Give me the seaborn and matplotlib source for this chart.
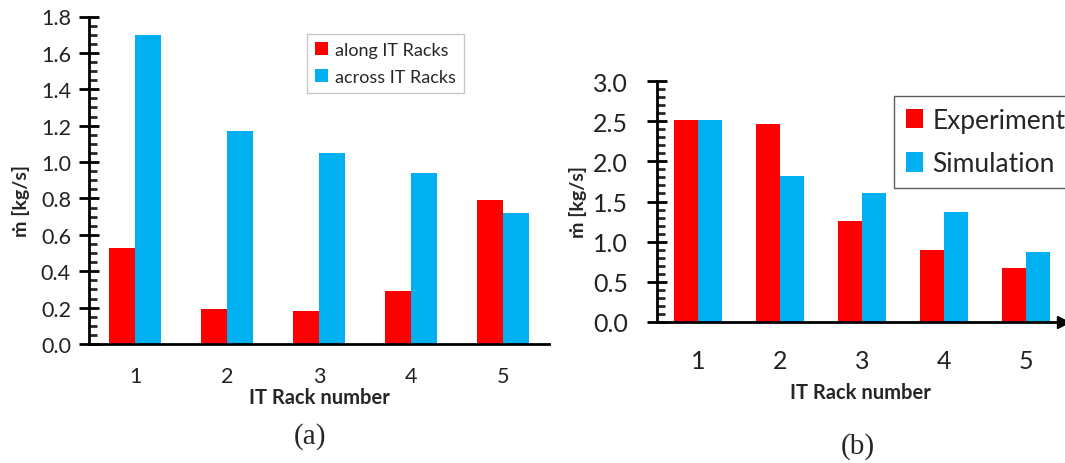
import numpy as np
import pandas as pd
import matplotlib
matplotlib.use("Agg")
import matplotlib.pyplot as plt
from matplotlib.ticker import MultipleLocator, FormatStrFormatter
import seaborn as sns

# Panel (a): mass flow along / across the IT racks
racks = ["1", "2", "3", "4", "5"]
along_racks = [0.53, 0.19, 0.18, 0.29, 0.79]
across_racks = [1.70, 1.17, 1.05, 0.94, 0.72]
series_a = ["along IT Racks", "across IT Racks"]

# Panel (b): experiment vs. simulation
experiment = [2.52, 2.47, 1.26, 0.90, 0.67]
simulation = [2.52, 1.82, 1.60, 1.37, 0.87]
series_b = ["Experiment", "Simulation"]

ylabel = "ṁ [kg/s]"
xlabel = "IT Rack number"

RED = "#FF0000"
BLUE = "#00B0F0"

sns.set_theme(style="white")
FONT = ["Lato", "DejaVu Sans"]
plt.rcParams["font.family"] = FONT

df_a = pd.DataFrame({
    "rack": racks * 2,
    "value": along_racks + across_racks,
    "series": [series_a[0]] * 5 + [series_a[1]] * 5,
})
df_b = pd.DataFrame({
    "rack": racks * 2,
    "value": experiment + simulation,
    "series": [series_b[0]] * 5 + [series_b[1]] * 5,
})

W, H = 1065, 464
fig = plt.figure(figsize=(W / 100, H / 100), dpi=100)


def px_axes(x0, x1, y_top, y_bot):
    return fig.add_axes([x0 / W, 1 - y_bot / H, (x1 - x0) / W, (y_bot - y_top) / H])


def style_axes(ax, major, minor, tick_fs, xpad, ypad):
    for side in ("top", "right"):
        ax.spines[side].set_visible(False)
    for side in ("left", "bottom"):
        ax.spines[side].set_color("black")
        ax.spines[side].set_linewidth(2.0)
    ax.yaxis.set_major_locator(MultipleLocator(major))
    ax.yaxis.set_minor_locator(MultipleLocator(minor))
    ax.yaxis.set_major_formatter(FormatStrFormatter("%.1f"))
    ax.tick_params(axis="y", which="major", direction="inout", length=14, width=2,
                   left=True, labelsize=tick_fs, colors="black", pad=ypad)
    ax.tick_params(axis="y", which="minor", direction="in", length=6, width=2,
                   left=True)
    ax.tick_params(axis="x", which="both", bottom=False, labelsize=tick_fs,
                   pad=xpad, colors="black")
    for lbl in ax.get_xticklabels() + ax.get_yticklabels():
        lbl.set_color("#222222")


# ---- panel (a)
ax1 = px_axes(89, 549, 17.5, 345)
sns.barplot(data=df_a, x="rack", y="value", hue="series",
            palette=[RED, BLUE], width=0.57, saturation=1, ax=ax1,
            edgecolor="none")
ax1.set_xlim(-0.5, 4.5)
ax1.set_ylim(0, 1.8)
style_axes(ax1, 0.2, 0.05, 15.5, 10, 6)
ax1.set_ylabel(ylabel, fontsize=14, fontweight="bold", family=FONT)
ax1.yaxis.set_label_coords(-0.128, 0.44)
ax1.set_xlabel(xlabel, fontsize=14.5, fontweight="bold", family=FONT)
ax1.xaxis.set_label_coords(0.5, -0.132)
leg1 = ax1.legend(loc="upper left", bbox_to_anchor=(218 / 460, 1 - 17.5 / 327.5),
                  fontsize=13, frameon=True, fancybox=False, handlelength=0.7,
                  handleheight=0.7, handletextpad=0.4, labelspacing=0.6,
                  borderpad=0.45, borderaxespad=0)
leg1.get_frame().set_edgecolor("#BBBBBB")
leg1.get_frame().set_linewidth(1.0)

# ---- panel (b)
ax2 = px_axes(657, 1063, 82.3, 322.7)
sns.barplot(data=df_b, x="rack", y="value", hue="series",
            palette=[RED, BLUE], width=0.59, saturation=1, ax=ax2,
            edgecolor="none")
ax2.set_xlim(-0.5, 4.45)
ax2.set_ylim(0, 3.0)
style_axes(ax2, 0.5, 0.1, 18, 14, 14)
ax2.plot([1], [0], marker=">", markersize=8, color="black",
         transform=ax2.transAxes, clip_on=False)
ax2.set_ylabel(ylabel, fontsize=14, fontweight="bold", family=FONT)
ax2.yaxis.set_label_coords(-0.172, 0.5)
ax2.set_xlabel(xlabel, fontsize=14.5, fontweight="bold", family=FONT)
ax2.xaxis.set_label_coords(0.5, -0.25)
leg2 = ax2.legend(loc="upper left", bbox_to_anchor=(237 / 406, 1 - 14.4 / 240.4),
                  fontsize=19, frameon=True, fancybox=False, handlelength=0.65,
                  handleheight=0.75, handletextpad=0.35, labelspacing=0.7,
                  borderpad=0.45, borderaxespad=0)
leg2.get_frame().set_edgecolor("#333333")
leg2.get_frame().set_linewidth(1.0)

# Panel captions
fig.text(310 / W, 1 - 437 / H, "(a)", ha="center", va="center", fontsize=21,
         family="Liberation Serif")
fig.text(858 / W, 1 - 447 / H, "(b)", ha="center", va="center", fontsize=21,
         family="Liberation Serif")

fig.savefig("out.png", dpi=100)
